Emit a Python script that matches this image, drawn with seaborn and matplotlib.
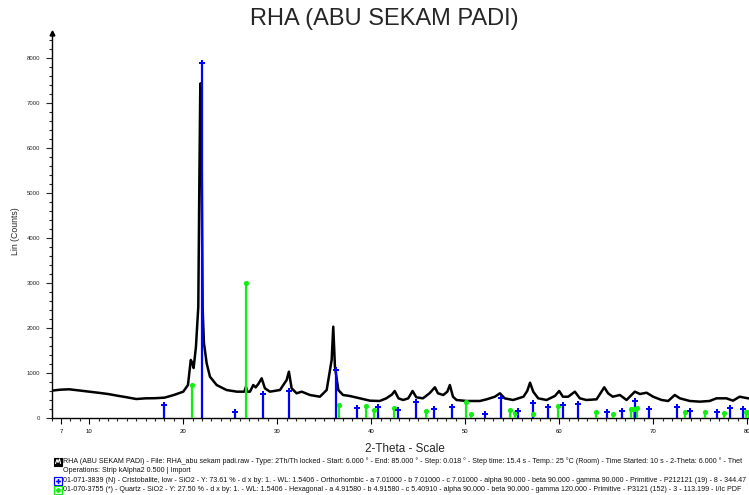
import matplotlib
matplotlib.use("Agg")
import matplotlib.pyplot as plt
import seaborn as sns
from matplotlib.patches import Rectangle
from matplotlib.lines import Line2D
from matplotlib.ticker import MultipleLocator

trace_2theta = [6.0, 6.5, 7.0, 7.85, 9.0, 10.0, 11.0, 12.0, 13.0, 14.0, 15.0, 16.0, 17.0, 18.0,
                19.0, 20.0, 20.5, 20.8, 20.95, 21.1, 21.35, 21.6, 21.7, 21.81, 21.85, 21.96,
                22.06, 22.2, 22.49, 22.84, 23.55, 24.6, 25.7, 26.5, 26.67, 26.8, 27.1, 27.45,
                27.7, 28.0, 28.34, 28.69, 29.22, 30.29, 31.0, 31.24, 31.53, 32.06, 32.6, 33.48,
                34.54, 35.26, 35.79, 35.96, 36.14, 36.5, 37.0, 37.7, 38.8, 39.86, 40.9, 41.6,
                42.2, 42.5, 42.9, 43.4, 43.94, 44.4, 44.8, 45.5, 46.2, 46.78, 47.1, 47.66, 48.1,
                48.37, 48.7, 49.08, 50.15, 51.56, 52.28, 53.16, 53.7, 54.2, 55.1, 56.2, 56.6,
                56.9, 57.24, 57.77, 58.66, 59.55, 60.0, 60.4, 60.96, 61.67, 62.2, 62.9, 63.98,
                64.5, 64.8, 65.2, 65.7, 66.46, 67.17, 68.05, 68.6, 69.3, 70.0, 70.9, 71.6, 72.3,
                72.85, 73.9, 74.97, 76.0, 76.74, 77.8, 78.5, 79.2, 80.1, 81.0]
trace_counts = [607, 620, 630, 638, 610, 585, 560, 533, 495, 460, 422, 437, 440, 452,
                511, 585, 733, 1290, 1230, 1110, 1585, 2474, 4993, 7363, 7437, 5733,
                2437, 1667, 1215, 918, 733, 622, 585, 585, 696, 585, 585, 733,
                680, 760, 882, 660, 585, 622, 844, 1029, 660, 549, 585, 511,
                473, 622, 1289, 2029, 1140, 622, 511, 490, 437, 385, 378, 437,
                520, 600, 437, 400, 437, 600, 460, 437, 549, 682, 549, 511, 585,
                733, 473, 400, 378, 378, 415, 473, 549, 437, 400, 473, 600,
                785, 585, 437, 400, 490, 600, 473, 473, 585, 437, 400, 415,
                585, 682, 549, 473, 511, 400, 585, 533, 562, 473, 400, 378, 511,
                437, 378, 363, 378, 437, 437, 385, 473, 437, 430]

# Reference pattern 01-071-3839 Cristobalite, low
cristobalite_2theta = [17.95, 21.99, 25.47, 28.51, 31.25, 36.21, 38.5, 40.71, 42.8, 44.76,
                       46.67, 48.55, 52.1, 53.8, 55.6, 57.2, 58.85, 60.42, 62.02, 65.1,
                       66.64, 68.09, 69.58, 72.49, 73.94, 76.78, 78.16, 79.6]
cristobalite_counts = [289, 7896, 126, 533, 607, 1067, 230, 252, 178, 356,
                       207, 252, 89, 437, 155, 326, 237, 289, 311, 126,
                       155, 378, 193, 252, 155, 133, 230, 200]

# Reference pattern 01-070-3755 Quartz
quartz_2theta = [20.93, 26.65, 36.56, 39.44, 40.27, 42.4, 45.79, 50.07, 50.6, 54.8, 55.3,
                 57.2, 59.9, 63.9, 65.68, 67.63, 67.98, 68.23, 73.34, 75.53, 77.55, 79.86, 80.15]
quartz_counts = [733, 3007, 278, 267, 178, 215, 163, 363, 89, 178, 119,
                 89, 274, 126, 89, 193, 193, 230, 126, 140, 111, 133, 126]

x_ticks = [7, 10, 20, 30, 40, 50, 60, 70, 80]
y_ticks = [0, 1000, 2000, 3000, 4000, 5000, 6000, 7000, 8000]

legend_lines = [
    "RHA (ABU SEKAM PADI) - File: RHA_abu sekam padi.raw - Type: 2Th/Th locked - Start: 6.000 \u00b0 - "
    "End: 85.000 \u00b0 - Step: 0.018 \u00b0 - Step time: 15.4 s - Temp.: 25 \u00b0C (Room) - "
    "Time Started: 10 s - 2-Theta: 6.000 \u00b0 - Thet",
    "Operations: Strip kAlpha2 0.500 | Import",
    "01-071-3839 (N) - Cristobalite, low - SiO2 - Y: 73.61 % - d x by: 1. - WL: 1.5406 - Orthorhombic - "
    "a 7.01000 - b 7.01000 - c 7.01000 - alpha 90.000 - beta 90.000 - gamma 90.000 - Primitive - "
    "P212121 (19) - 8 - 344.47",
    "01-070-3755 (*) - Quartz - SiO2 - Y: 27.50 % - d x by: 1. - WL: 1.5406 - Hexagonal - a 4.91580 - "
    "b 4.91580 - c 5.40910 - alpha 90.000 - beta 90.000 - gamma 120.000 - Primitive - P3121 (152) - "
    "3 - 113.199 - I/Ic PDF",
]

blue = "#0000ff"
green = "#11ee11"

sns.set_style("ticks")
plt.rcParams["font.family"] = ["Liberation Sans", "DejaVu Sans"]

W, H = 749, 495
fig = plt.figure(figsize=(W / 100, H / 100), dpi=100)
ax = fig.add_axes([51.7 / W, 1 - 418 / H, (W - 51.7) / W, (418 - 33) / H])

# scan
sns.lineplot(x=trace_2theta, y=trace_counts, ax=ax, color="black", linewidth=1.8, zorder=2)

# stick patterns
ax.vlines(quartz_2theta, 0, quartz_counts, colors=green, linewidth=1.6, zorder=3)
ax.vlines(cristobalite_2theta, 0, cristobalite_counts, colors=blue, linewidth=1.6, zorder=3)
sns.scatterplot(x=quartz_2theta, y=quartz_counts, ax=ax, marker="o", s=14,
                color=green, linewidth=0, zorder=4, clip_on=False)
sns.scatterplot(x=cristobalite_2theta, y=cristobalite_counts, ax=ax, marker="P", s=18,
                color=blue, linewidth=0, zorder=4, clip_on=False)

ax.set_xlim(6, 80.2)
ax.set_ylim(0, 8555)
ax.set_xticks(x_ticks)
ax.set_xticklabels([str(t) for t in x_ticks])
ax.set_yticks(y_ticks)
ax.set_yticklabels([str(t) for t in y_ticks])
ax.xaxis.set_minor_locator(MultipleLocator(1))
ax.yaxis.set_minor_locator(MultipleLocator(200))
ax.tick_params(axis="x", which="major", length=4, width=0.8, labelsize=4.3, pad=4, colors="black")
ax.tick_params(axis="x", which="minor", length=2.4, width=0.8)
ax.tick_params(axis="y", which="major", length=4.5, width=0.8, labelsize=4.3, pad=4)
ax.tick_params(axis="y", which="minor", length=2.4, width=0.8)
sns.despine(ax=ax)
for side in ("left", "bottom"):
    ax.spines[side].set_linewidth(1.0)
    ax.spines[side].set_color("black")
ax.plot([0], [1], marker="^", markersize=3.5, color="black", transform=ax.transAxes, clip_on=False)

ax.set_ylabel("Lin (Counts)", fontsize=6.3)
ax.yaxis.set_label_coords(-0.045, 0.485)
ax.set_xlabel("")

fig.text(384 / W, 1 - 19.5 / H, "RHA (ABU SEKAM PADI)", fontsize=17, ha="center", va="center")
fig.text(405 / W, 1 - 448.5 / H, "2-Theta - Scale", fontsize=8.4, ha="center", va="center")

# legend block
line_y = [461.5, 470.5, 480.5, 489.5]
for text, y in zip(legend_lines, line_y):
    fig.text(63 / W, 1 - y / H, text, fontsize=5.1, ha="left", va="center", color="#111111")

box_w, box_h = 8 / W, 8 / H
x0 = 54 / W
# scan icon
fig.add_artist(Rectangle((x0, 1 - (line_y[0] + 4) / H), box_w, box_h, transform=fig.transFigure,
                         facecolor="black", edgecolor="black", linewidth=0.8))
yc = line_y[0]
fig.add_artist(Line2D([55.5 / W, 57 / W, 58 / W, 59.5 / W, 60.5 / W],
                      [1 - (yc + 2) / H, 1 - (yc - 2) / H, 1 - (yc + 1) / H, 1 - (yc - 2.5) / H, 1 - (yc + 2) / H],
                      transform=fig.transFigure, color="white", linewidth=0.8))
# phase icons
for y, col, mk in ((line_y[2], blue, "P"), (line_y[3], green, "o")):
    fig.add_artist(Rectangle((x0, 1 - (y + 4) / H), box_w, box_h, transform=fig.transFigure,
                             facecolor="white", edgecolor=col, linewidth=0.9))
    fig.add_artist(Line2D([58 / W], [1 - y / H], transform=fig.transFigure, marker=mk,
                          markersize=3.5, color=col, markeredgewidth=0))

fig.savefig("out.png", dpi=100)
